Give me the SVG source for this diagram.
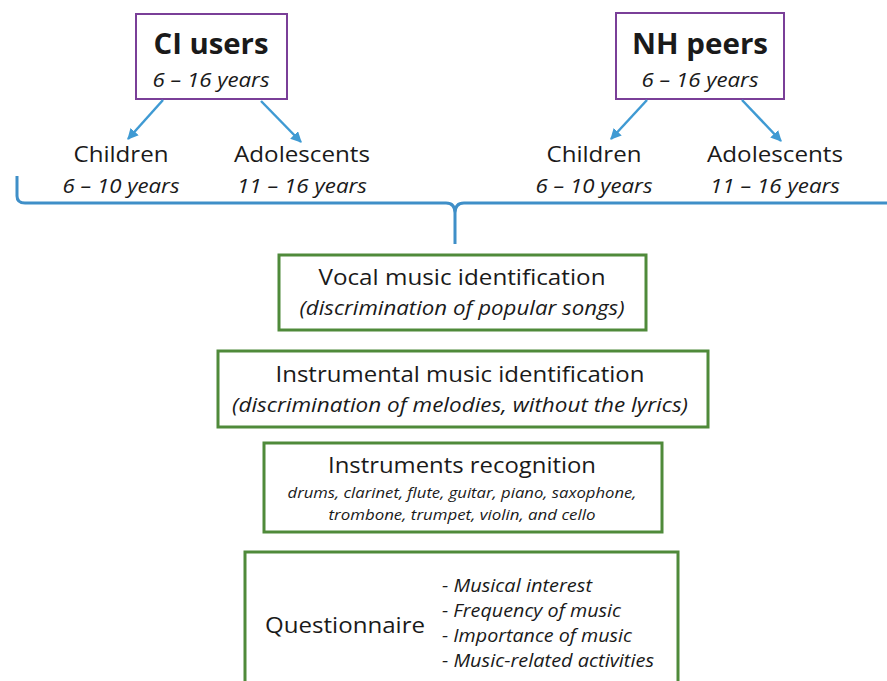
<svg xmlns="http://www.w3.org/2000/svg" width="887" height="681" viewBox="0 0 887 681">
<defs>
<marker id="ah" viewBox="0 0 10 10" refX="9" refY="5" markerWidth="4.4" markerHeight="4.4" orient="auto" markerUnits="strokeWidth">
<path d="M0,0 L10,5 L0,10 z" fill="#3f9ad3"/>
</marker>
<style>
text{font-family:"Open Sans","Liberation Sans",sans-serif;fill:#1a1a1a}
.t{font-size:21px;text-anchor:middle}
.ti{font-size:19.5px;font-style:italic;text-anchor:middle}
.b{font-size:29px;font-weight:bold;text-anchor:middle}
.s{font-size:14.5px;font-style:italic;text-anchor:middle}
.l{font-size:18.5px;font-style:italic}
.pb{fill:#fff;stroke:#7a3f98;stroke-width:2}
.gb{fill:#fff;stroke:#4f8a3a;stroke-width:3}
.c{fill:none;stroke:#3f9ad3;stroke-width:2.5}
.br{fill:none;stroke:#3f8fc8;stroke-width:3}
</style>
</defs>
<rect width="887" height="681" fill="#fff"/>
<g id="ci-users">
<rect class="pb" x="136" y="14" width="151" height="85"/>
<text class="b" x="211" y="54" textLength="115" lengthAdjust="spacingAndGlyphs">CI users</text>
<text class="ti" x="211" y="87" textLength="117" lengthAdjust="spacingAndGlyphs">6 – 16 years</text>
</g>
<g id="nh-peers">
<rect class="pb" x="616" y="13" width="168" height="86"/>
<text class="b" x="700" y="54" textLength="136" lengthAdjust="spacingAndGlyphs">NH peers</text>
<text class="ti" x="700" y="87" textLength="117" lengthAdjust="spacingAndGlyphs">6 – 16 years</text>
</g>
<g id="ci-children">
<text class="t" x="121" y="162" textLength="95" lengthAdjust="spacingAndGlyphs">Children</text>
<text class="ti" x="121" y="193" textLength="117" lengthAdjust="spacingAndGlyphs">6 – 10 years</text>
</g>
<g id="ci-adolescents">
<text class="t" x="302" y="162" textLength="136" lengthAdjust="spacingAndGlyphs">Adolescents</text>
<text class="ti" x="302" y="193" textLength="130" lengthAdjust="spacingAndGlyphs">11 – 16 years</text>
</g>
<g id="nh-children">
<text class="t" x="594" y="162" textLength="95" lengthAdjust="spacingAndGlyphs">Children</text>
<text class="ti" x="594" y="193" textLength="117" lengthAdjust="spacingAndGlyphs">6 – 10 years</text>
</g>
<g id="nh-adolescents">
<text class="t" x="775" y="162" textLength="136" lengthAdjust="spacingAndGlyphs">Adolescents</text>
<text class="ti" x="775" y="193" textLength="130" lengthAdjust="spacingAndGlyphs">11 – 16 years</text>
</g>
<g id="vocal">
<rect class="gb" x="279" y="255" width="367" height="75"/>
<text class="t" x="462" y="285" textLength="287" lengthAdjust="spacingAndGlyphs">Vocal music identification</text>
<text class="ti" x="462" y="315" textLength="325" lengthAdjust="spacingAndGlyphs">(discrimination of popular songs)</text>
</g>
<g id="instrumental">
<rect class="gb" x="218" y="351" width="490" height="76"/>
<text class="t" x="460" y="382" textLength="369" lengthAdjust="spacingAndGlyphs">Instrumental music identification</text>
<text class="ti" x="460" y="412" textLength="456" lengthAdjust="spacingAndGlyphs">(discrimination of melodies, without the lyrics)</text>
</g>
<g id="instruments">
<rect class="gb" x="264" y="443" width="398" height="89"/>
<text class="t" x="462" y="473" textLength="268" lengthAdjust="spacingAndGlyphs">Instruments recognition</text>
<text class="s" x="462" y="498" textLength="349" lengthAdjust="spacingAndGlyphs">drums, clarinet, flute, guitar, piano, saxophone,</text>
<text class="s" x="462" y="520" textLength="267" lengthAdjust="spacingAndGlyphs">trombone, trumpet, violin, and cello</text>
</g>
<g id="questionnaire">
<rect class="gb" x="245" y="552" width="433" height="150"/>
<text class="t" x="265" y="633" style="text-anchor:start" textLength="160" lengthAdjust="spacingAndGlyphs">Questionnaire</text>
<text class="l" x="442" y="592" textLength="150" lengthAdjust="spacingAndGlyphs">- Musical interest</text>
<text class="l" x="442" y="617" textLength="179" lengthAdjust="spacingAndGlyphs">- Frequency of music</text>
<text class="l" x="442" y="642" textLength="190" lengthAdjust="spacingAndGlyphs">- Importance of music</text>
<text class="l" x="442" y="667" textLength="212" lengthAdjust="spacingAndGlyphs">- Music-related activities</text>
</g>
<g id="connectors">
<line class="c" x1="163" y1="100" x2="128" y2="139" marker-end="url(#ah)"/>
<line class="c" x1="261" y1="101" x2="301" y2="142" marker-end="url(#ah)"/>
<line class="c" x1="647" y1="100" x2="611" y2="139" marker-end="url(#ah)"/>
<line class="c" x1="742" y1="100" x2="781" y2="141" marker-end="url(#ah)"/>
<path class="br" d="M17,176 V196 Q17,203 25,203 H446 Q455,203 455,213 V244 M455,213 Q455,203 464,203 H887"/>
</g>
</svg>
